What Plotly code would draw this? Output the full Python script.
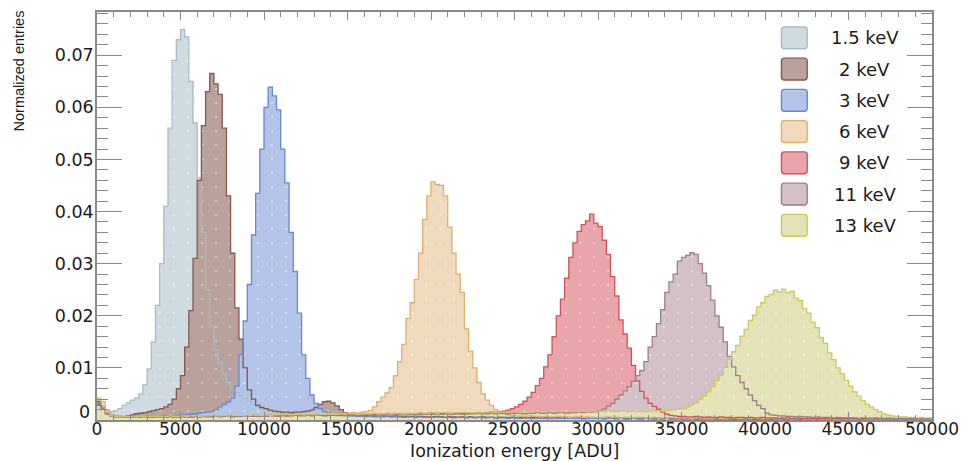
import plotly.graph_objects as go

# ---------------- data (normalized entries, in units of 1e-4, 250 ADU bins from 0) ----------------
BIN_START = 0
BIN_WIDTH = 250
VALUE_UNIT = 1e-4

labels = ["1.5 keV", "2 keV", "3 keV", "6 keV", "9 keV", "11 keV", "13 keV"]

s1_5kev = [
    30, 26, 20, 16, 18, 22, 28, 33, 38, 42, 50, 68, 98, 150, 220, 300, 410, 560, 690, 730,
    749, 735, 650, 570, 465, 360, 250, 180, 135, 110, 88, 72, 60, 52, 46, 42, 36, 30, 26, 22,
    19, 17, 15, 14, 13, 12, 12, 11, 11, 10, 10, 9, 10, 9, 9, 8, 9, 8, 8, 7,
    8, 7, 7, 8, 6, 7, 7, 6, 7, 8, 6, 6, 7, 6, 7, 6, 5, 6, 7, 6,
    6, 5, 6, 6, 7, 5, 6, 5, 6, 6, 5, 6, 5, 5, 6, 5, 6, 5, 5, 6,
    5, 5, 6, 5, 4, 5, 5, 6, 5, 4, 5, 5, 4, 5, 5, 4, 5, 4, 5, 4,
    4, 5, 4, 4, 5, 4, 4, 3, 4, 4, 5, 4, 3, 4, 4, 3, 4, 4, 3, 4,
    3, 4, 3, 4, 3, 3, 4, 3, 3, 4, 3, 3, 3, 4, 3, 3, 3, 2, 3, 3,
    3, 2, 3, 3, 2, 3, 2, 3, 3, 2, 2, 3, 2, 2, 3, 2, 2, 2, 3, 2,
    2, 2, 2, 3, 2, 2, 2, 2, 1, 2, 2, 2, 2, 1, 2, 2, 2, 1, 2, 2,
]

s2kev = [
    35, 25, 15, 10, 8, 7, 6, 8, 10, 12, 13, 14, 16, 18, 20, 22, 25, 30, 40, 60,
    85, 140, 210, 310, 460, 565, 630, 665, 645, 625, 560, 430, 320, 215, 155, 100, 58, 40, 28, 24,
    22, 19, 17, 16, 15, 15, 14, 15, 15, 16, 17, 19, 24, 30, 35, 36, 33, 27, 20, 14,
    10, 9, 9, 8, 9, 8, 8, 7, 8, 7, 7, 8, 7, 6, 7, 7, 6, 7, 6, 6,
    6, 7, 6, 5, 6, 6, 5, 6, 5, 6, 5, 5, 6, 5, 5, 4, 5, 5, 4, 5,
    4, 5, 4, 4, 5, 4, 4, 4, 3, 4, 4, 3, 4, 4, 3, 4, 3, 3, 4, 3,
    3, 3, 4, 3, 3, 3, 2, 3, 3, 3, 2, 3, 3, 2, 3, 2, 3, 2, 2, 3,
    2, 2, 3, 2, 2, 2, 2, 2, 3, 2, 2, 2, 1, 2, 2, 2, 2, 1, 2, 2,
    2, 1, 2, 2, 1, 2, 1, 2, 1, 1, 2, 1, 1, 2, 1, 1, 1, 2, 1, 1,
    1, 1, 1, 1, 2, 1, 1, 1, 1, 1, 1, 1, 1, 1, 1, 1, 1, 1, 1, 1,
]

s3kev = [
    32, 22, 14, 10, 8, 6, 5, 5, 6, 5, 5, 6, 7, 6, 6, 7, 8, 7, 8, 9,
    10, 10, 11, 12, 13, 14, 15, 16, 20, 25, 30, 35, 42, 65, 125, 190, 260, 355, 435, 520,
    600, 639, 622, 595, 520, 455, 360, 285, 205, 125, 80, 48, 32, 22, 16, 13, 11, 10, 9, 9,
    8, 8, 7, 8, 7, 7, 6, 7, 6, 7, 6, 6, 6, 5, 6, 6, 5, 6, 5, 5,
    5, 6, 5, 5, 5, 4, 5, 5, 4, 5, 4, 5, 4, 4, 5, 4, 4, 4, 3, 4,
    4, 3, 4, 4, 3, 4, 3, 3, 4, 3, 3, 3, 4, 3, 3, 3, 2, 3, 3, 3,
    3, 2, 3, 3, 2, 3, 2, 2, 3, 2, 2, 3, 2, 2, 2, 2, 3, 2, 2, 2,
    2, 2, 2, 1, 2, 2, 2, 2, 1, 2, 2, 1, 2, 2, 1, 2, 1, 2, 1, 2,
    1, 2, 1, 1, 2, 1, 1, 1, 2, 1, 1, 1, 1, 1, 2, 1, 1, 1, 1, 1,
    1, 1, 1, 1, 1, 1, 1, 1, 1, 1, 1, 1, 1, 1, 1, 1, 1, 1, 1, 1,
]

s6kev = [
    38, 26, 16, 10, 8, 7, 7, 6, 7, 6, 6, 7, 6, 6, 7, 6, 6, 7, 6, 7,
    6, 7, 6, 7, 7, 6, 7, 7, 8, 7, 7, 8, 7, 8, 8, 7, 8, 8, 9, 8,
    8, 9, 9, 8, 9, 10, 9, 10, 10, 9, 10, 11, 10, 11, 11, 12, 11, 12, 12, 13,
    13, 14, 13, 15, 16, 18, 25, 35, 44, 52, 62, 85, 112, 145, 195, 225, 270, 320, 385, 430,
    457, 452, 450, 430, 370, 320, 280, 245, 175, 132, 100, 72, 50, 38, 28, 20, 15, 12, 10, 9,
    8, 8, 7, 8, 7, 7, 6, 7, 6, 6, 7, 6, 6, 5, 6, 6, 5, 6, 5, 5,
    5, 5, 6, 5, 5, 4, 5, 5, 4, 5, 5, 4, 4, 5, 4, 4, 4, 5, 4, 4,
    4, 4, 3, 4, 4, 3, 4, 3, 4, 3, 3, 4, 3, 3, 3, 4, 3, 3, 3, 3,
    3, 3, 3, 2, 3, 3, 2, 3, 3, 2, 3, 2, 3, 2, 2, 3, 2, 2, 3, 2,
    2, 2, 2, 3, 2, 2, 2, 2, 2, 3, 2, 2, 2, 2, 2, 2, 2, 2, 2, 2,
]

s9kev = [
    28, 20, 12, 8, 6, 5, 5, 6, 5, 5, 6, 5, 6, 6, 5, 6, 6, 7, 6, 6,
    7, 6, 7, 7, 6, 7, 7, 8, 7, 7, 8, 7, 8, 8, 8, 7, 8, 8, 9, 8,
    8, 9, 8, 9, 9, 8, 9, 9, 10, 9, 9, 10, 9, 10, 10, 9, 10, 10, 11, 10,
    10, 11, 10, 11, 11, 10, 11, 11, 12, 11, 11, 12, 11, 12, 12, 11, 12, 12, 12, 13,
    12, 13, 12, 13, 13, 12, 13, 13, 12, 13, 13, 14, 13, 14, 15, 15, 16, 17, 19, 22,
    25, 30, 36, 44, 53, 66, 80, 102, 125, 160, 200, 232, 272, 312, 340, 362, 375, 382, 395, 378,
    371, 345, 318, 275, 238, 192, 165, 138, 105, 75, 55, 42, 32, 26, 21, 15, 11, 9, 8, 7,
    7, 6, 6, 7, 6, 5, 6, 5, 5, 6, 5, 5, 4, 5, 5, 4, 5, 4, 4, 5,
    4, 4, 4, 3, 4, 4, 3, 4, 3, 3, 4, 3, 3, 3, 3, 4, 3, 3, 3, 3,
    3, 3, 2, 3, 3, 3, 2, 3, 2, 3, 2, 2, 3, 2, 2, 2, 3, 2, 2, 2,
]

s11kev = [
    30, 22, 12, 8, 6, 5, 5, 5, 6, 5, 5, 5, 6, 5, 5, 6, 5, 6, 6, 5,
    6, 6, 5, 6, 6, 7, 6, 6, 7, 6, 7, 7, 6, 7, 7, 7, 8, 7, 7, 8,
    7, 8, 8, 7, 8, 8, 8, 9, 8, 8, 9, 8, 9, 9, 8, 9, 9, 9, 10, 9,
    9, 10, 9, 10, 10, 9, 10, 10, 10, 11, 10, 10, 11, 10, 11, 11, 10, 11, 11, 11,
    11, 12, 11, 12, 11, 12, 12, 11, 12, 12, 12, 13, 12, 12, 13, 12, 13, 13, 12, 13,
    13, 13, 12, 13, 13, 14, 13, 13, 14, 13, 14, 14, 13, 14, 14, 15, 14, 15, 15, 16,
    18, 21, 26, 32, 40, 48, 56, 64, 74, 85, 95, 112, 140, 160, 185, 212, 245, 265, 280, 305,
    312, 316, 321, 318, 300, 282, 258, 230, 200, 178, 150, 122, 102, 85, 72, 60, 48, 37, 28, 22,
    13, 10, 9, 8, 8, 7, 7, 6, 7, 6, 6, 5, 6, 5, 5, 5, 4, 5, 4, 4,
    4, 4, 3, 4, 3, 3, 4, 3, 3, 3, 3, 2, 3, 3, 2, 3, 2, 2, 3, 2,
]

s13kev = [
    42, 35, 15, 9, 7, 6, 6, 7, 6, 6, 7, 6, 7, 7, 6, 7, 7, 8, 7, 7,
    8, 7, 8, 8, 7, 8, 8, 9, 8, 8, 9, 8, 9, 9, 9, 8, 9, 10, 9, 9,
    10, 9, 10, 10, 10, 11, 10, 10, 11, 10, 11, 11, 10, 11, 11, 12, 11, 11, 12, 11,
    12, 12, 11, 12, 12, 12, 13, 12, 12, 13, 12, 13, 13, 12, 13, 13, 13, 14, 13, 13,
    14, 13, 14, 14, 13, 14, 14, 14, 15, 14, 14, 15, 14, 15, 15, 14, 15, 15, 15, 16,
    15, 15, 16, 15, 16, 16, 15, 16, 16, 16, 17, 16, 16, 17, 16, 17, 17, 16, 17, 17,
    17, 16, 17, 17, 16, 17, 17, 16, 17, 16, 17, 16, 17, 17, 18, 17, 18, 19, 20, 21,
    22, 25, 29, 33, 40, 46, 54, 64, 76, 86, 101, 116, 131, 143, 161, 174, 191, 201, 217, 225,
    237, 241, 249, 246, 251, 244, 247, 234, 229, 214, 205, 188, 177, 158, 147, 129, 116, 100, 89, 76,
    65, 54, 46, 37, 30, 25, 20, 16, 12, 10, 8, 7, 6, 6, 5, 5, 4, 5, 4, 4,
]

series = [s1_5kev, s2kev, s3kev, s6kev, s9kev, s11kev, s13kev]

x_tick_vals = [0, 5000, 10000, 15000, 20000, 25000, 30000, 35000, 40000, 45000, 50000]
x_tick_text = ["0", "5000", "10000", "15000", "20000", "25000", "30000", "35000", "40000", "45000", "50000"]
y_tick_vals = [0, 0.01, 0.02, 0.03, 0.04, 0.05, 0.06, 0.07]
y_tick_text = ["0", "0.01", "0.02", "0.03", "0.04", "0.05", "0.06", "0.07"]

# ---------------- styles ----------------
fill_colors = ["#cfdbe1", "#b9a29b", "#b4c4e8", "#f0dabd", "#e8a6ab", "#d4c1c7", "#e4e2b6"]
line_colors = ["#a8bcc6", "#87574a", "#6487d7", "#e0ae6e", "#d6505a", "#a07e88", "#cdc85a"]

FONT = "DejaVu Sans"
AX_COLOR = "#8a8a8a"
TXT_COLOR = "#1c1c1c"

W, H = 969, 461
ML, MR, MT, MB = 97, 29, 10, 41
PW, PH = W - ML - MR, H - MT - MB

def px2x(px):
    return (px - ML) / PW

def py2y(py):
    return (H - MB - py) / PH

fig = go.Figure()

def step_xy(vals):
    xs = [BIN_START + i * BIN_WIDTH for i in range(len(vals) + 1)]
    ys = [v * VALUE_UNIT for v in vals] + [vals[-1] * VALUE_UNIT]
    return xs, ys

# fills first (later series on top)
for vals, fc, name in zip(series, fill_colors, labels):
    xs, ys = step_xy(vals)
    fig.add_trace(go.Scatter(
        x=xs, y=ys, mode="lines", name=name,
        line=dict(width=0, shape="hv"),
        fill="tozeroy", fillcolor=fc,
        fillpattern=dict(shape=".", bgcolor=fc, fgcolor="white", size=14, solidity=0.018),
        showlegend=False, hoverinfo="skip",
    ))

# outlines on top of every fill
for vals, lc, name in zip(series, line_colors, labels):
    xs, ys = step_xy(vals)
    fig.add_trace(go.Scatter(
        x=xs, y=ys, mode="lines", name=name,
        line=dict(width=1.3, shape="hv", color=lc),
        showlegend=False, hoverinfo="skip",
    ))

# ---------------- legend (drawn) ----------------
shapes = []
annotations = []
leg_x0, leg_x1 = 788, 814
leg_y0 = 36
leg_dy = 31.4
r = 3
for k, (name, fc, lc) in enumerate(zip(labels, fill_colors, line_colors)):
    cy = leg_y0 + k * leg_dy
    top, bot = cy - 11, cy + 11
    X = lambda p: px2x(p)
    Y = lambda p: py2y(p)
    path = (
        f"M{X(leg_x0 + r)},{Y(top)} L{X(leg_x1 - r)},{Y(top)} "
        f"Q{X(leg_x1)},{Y(top)} {X(leg_x1)},{Y(top + r)} "
        f"L{X(leg_x1)},{Y(bot - r)} Q{X(leg_x1)},{Y(bot)} {X(leg_x1 - r)},{Y(bot)} "
        f"L{X(leg_x0 + r)},{Y(bot)} Q{X(leg_x0)},{Y(bot)} {X(leg_x0)},{Y(bot - r)} "
        f"L{X(leg_x0)},{Y(top + r)} Q{X(leg_x0)},{Y(top)} {X(leg_x0 + r)},{Y(top)} Z"
    )
    shapes.append(dict(type="path", xref="paper", yref="paper", path=path,
                       fillcolor=fc, line=dict(color=lc, width=1.4), layer="above"))
    annotations.append(dict(x=px2x(872), y=py2y(cy), xref="paper", yref="paper",
                            text=name, showarrow=False, xanchor="center", yanchor="middle",
                            font=dict(family=FONT, size=18, color=TXT_COLOR)))

# axis titles
annotations.append(dict(x=0.5, y=py2y(451), xref="paper", yref="paper",
                        text="Ionization energy [ADU]", showarrow=False,
                        xanchor="center", yanchor="middle",
                        font=dict(family=FONT, size=17.5, color=TXT_COLOR)))
annotations.append(dict(x=px2x(18), y=py2y(69), xref="paper", yref="paper",
                        text="Normalized entries", showarrow=False, textangle=-90,
                        xanchor="center", yanchor="middle",
                        font=dict(family="Liberation Sans", size=14.5, color=TXT_COLOR)))

# y-axis "0" label sits slightly raised above the corner, as in the original
annotations.append(dict(x=0, y=y_tick_vals[0], xref="paper", yref="y",
                        text=y_tick_text[0], showarrow=False,
                        xanchor="right", yanchor="middle", xshift=-5, yshift=8,
                        font=dict(family=FONT, size=17.5, color=TXT_COLOR)))

fig.update_layout(
    width=W, height=H,
    margin=dict(l=ML, r=MR, t=MT, b=MB, pad=0),
    paper_bgcolor="white", plot_bgcolor="white",
    showlegend=False,
    shapes=shapes, annotations=annotations,
    xaxis=dict(
        range=[0, 50000], tickmode="array", tickvals=x_tick_vals, ticktext=x_tick_text,
        ticks="inside", ticklen=8, tickwidth=1, tickcolor=AX_COLOR,
        minor=dict(tickmode="linear", tick0=0, dtick=1000, ticks="inside", ticklen=5,
                   tickwidth=1, tickcolor=AX_COLOR, showgrid=False),
        showline=True, linecolor=AX_COLOR, linewidth=1.5, mirror="ticks",
        showgrid=False, zeroline=False, ticklabelstandoff=-7,
        tickfont=dict(family=FONT, size=17, color=TXT_COLOR),
    ),
    yaxis=dict(
        range=[0, 0.0783], tickmode="array", tickvals=y_tick_vals,
        ticktext=[""] + y_tick_text[1:],
        ticks="inside", ticklen=25, tickwidth=1, tickcolor=AX_COLOR,
        minor=dict(tickmode="linear", tick0=0, dtick=0.002, ticks="inside", ticklen=11,
                   tickwidth=1, tickcolor=AX_COLOR, showgrid=False),
        showline=True, linecolor=AX_COLOR, linewidth=1.5, mirror="ticks",
        showgrid=False, zeroline=False, ticklabelstandoff=-2,
        tickfont=dict(family=FONT, size=17.5, color=TXT_COLOR),
    ),
)

fig.write_html("out.html")
